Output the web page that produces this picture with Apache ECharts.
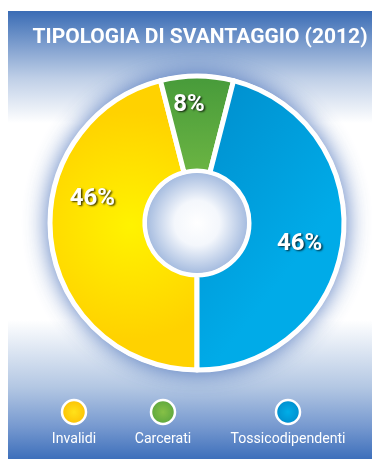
<!DOCTYPE html>
<html>
<head>
<meta charset="utf-8">
<script src="https://cdn.jsdelivr.net/npm/echarts@6/dist/echarts.min.js"></script>
<style>
html,body{margin:0;padding:0;background:#fff;width:372px;height:459px;overflow:hidden;}
#chart{position:absolute;left:8px;top:11px;width:364px;height:448px;}
</style>
</head>
<body>
<div id="chart"></div>
<script>
const titleText = 'TIPOLOGIA DI SVANTAGGIO (2012)';
const categories = ['Invalidi', 'Carcerati', 'Tossicodipendenti'];
const values = [46, 8, 46];

const FONT = 'Roboto, "Liberation Sans", sans-serif';
const G = echarts.graphic;

const sliceColors = [
  new G.RadialGradient(0.55, 0.5, 0.75, [{offset: 0, color: '#fff300'}, {offset: 1, color: '#ffd200'}]),
  new G.LinearGradient(0, 0, 0, 1, [{offset: 0, color: '#469a3a'}, {offset: 1, color: '#6cb543'}]),
  new G.LinearGradient(0, 0, 1, 0.4, [{offset: 0, color: '#008ccb'}, {offset: 1, color: '#00abe8'}])
];
const iconColors = [
  new G.RadialGradient(0.5, 0.5, 0.6, [{offset: 0, color: '#ffe21a'}, {offset: 1, color: '#fbb800'}]),
  new G.RadialGradient(0.5, 0.5, 0.6, [{offset: 0, color: '#86c046'}, {offset: 1, color: '#52a03c'}]),
  new G.RadialGradient(0.5, 0.5, 0.6, [{offset: 0, color: '#00aee8'}, {offset: 1, color: '#0084c6'}])
];
const labelOffsets = [[-3, -37], [-8, -16], [1, 8]];

const center = [189, 212];
const legendX = [66, 155, 280];

const chart = echarts.init(document.getElementById('chart'), null, {renderer: 'canvas'});

const graphics = [];
categories.forEach((c, i) => {
  graphics.push({
    type: 'circle',
    shape: {cx: legendX[i], cy: 401, r: 12},
    style: {fill: iconColors[i], stroke: '#ffffff', lineWidth: 2.5}
  });
  graphics.push({
    type: 'text',
    x: legendX[i], y: 428,
    scaleX: 0.94,
    style: {text: c, fill: '#ffffff', font: '15px ' + FONT, textAlign: 'center', textVerticalAlign: 'middle'}
  });
});
graphics.push({
  type: 'text',
  x: 192, y: 27,
  scaleX: 1.0,
  style: {text: titleText, fill: '#ffffff', font: 'bold 21px ' + FONT, textAlign: 'center', textVerticalAlign: 'middle'}
});

chart.setOption({
  backgroundColor: new G.LinearGradient(0, 0, 0, 1, [
    {offset: 0, color: '#3a6cb5'},
    {offset: 0.15, color: '#bfcfe7'},
    {offset: 0.25, color: '#ffffff'},
    {offset: 0.69, color: '#ffffff'},
    {offset: 0.84, color: '#b3c7e3'},
    {offset: 0.93, color: '#7598cf'},
    {offset: 1, color: '#3d6fbb'}
  ]),
  graphic: graphics,
  series: [
    {
      type: 'pie',
      silent: true,
      center: center,
      radius: [52, 149],
      label: {show: false},
      labelLine: {show: false},
      itemStyle: {color: '#ffffff', shadowColor: 'rgba(45,90,175,0.85)', shadowBlur: 24},
      data: [{value: 1}],
      z: 1
    },
    {
      type: 'pie',
      center: center,
      radius: [52, 147],
      startAngle: 270,
      clockwise: true,
      silent: true,
      avoidLabelOverlap: false,
      itemStyle: {borderColor: '#ffffff', borderWidth: 5},
      label: {
        show: true,
        position: 'inside',
        formatter: '{c}%',
        color: '#ffffff',
        fontFamily: FONT,
        fontWeight: 'bold',
        fontSize: 24,
        textShadowColor: 'rgba(0,0,0,0.75)',
        textShadowBlur: 2,
        textShadowOffsetX: 1.5,
        textShadowOffsetY: 1.5
      },
      labelLine: {show: false},
      data: categories.map((c, i) => ({
        name: c,
        value: values[i],
        itemStyle: {color: sliceColors[i]},
        label: {offset: labelOffsets[i]}
      })),
      z: 2
    },
    {
      type: 'pie',
      silent: true,
      center: center,
      radius: [0, 50],
      label: {show: false},
      labelLine: {show: false},
      itemStyle: {
        color: new G.RadialGradient(0.5, 0.5, 0.5, [
          {offset: 0, color: '#ffffff'},
          {offset: 0.45, color: '#f4f7fc'},
          {offset: 1, color: '#a7bde0'}
        ])
      },
      data: [{value: 1}],
      z: 3
    }
  ]
});
</script>
</body>
</html>
